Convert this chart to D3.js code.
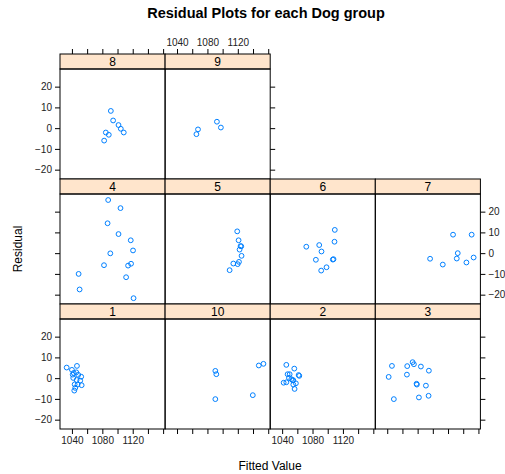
<!DOCTYPE html>
<html>
<head>
<meta charset="utf-8">
<script src="https://cdn.jsdelivr.net/npm/d3@7"></script>
<style>
  body { margin: 0; background: #fff; }
  text { font-family: "Liberation Sans", Arial, sans-serif; }
</style>
</head>
<body>
<div id="chart"></div>
<script>
// residuals by dog group: [fitted, residual]
const dog1 = [[1033.1, 5.1], [1046.6, 5.9], [1040.0, 4.0], [1042.3, 2.5], [1045.7, 2.8], [1048.3, 1.6],
  [1052.2, 0.7], [1041.7, 0.1], [1046.2, -0.9], [1050.9, -1.2], [1043.6, -3.0], [1052.8, -3.4],
  [1047.5, -3.1], [1044.4, -4.7], [1043.1, -6.0], [1041.0, 1.7]];
const dog10 = [[1090.4, 3.5], [1091.7, 1.9], [1090.4, -10.1], [1139.7, -8.2], [1147.6, 6.1], [1153.7, 6.9]];
const dog2 = [[1045.5, 6.4], [1056.0, 4.6], [1047.2, 1.9], [1049.9, 1.9], [1061.7, 1.5], [1062.6, 1.1],
  [1049.0, 0.1], [1052.1, -0.5], [1053.8, -1.0], [1054.7, -1.0], [1042.0, -2.2], [1045.5, -2.0],
  [1058.1, -2.5], [1054.7, -3.1], [1056.4, -5.2]];
const dog3 = [[1046.2, 5.9], [1066.3, 5.8], [1073.4, 7.7], [1075.1, 6.7], [1084.3, 5.6], [1094.8, 3.6],
  [1041.9, 0.6], [1065.9, 1.7], [1078.6, -2.7], [1079.0, -3.1], [1090.9, -3.6], [1094.4, -8.5],
  [1081.7, -9.3], [1048.7, -10.1]];
const dog4 = [[1087.7, 25.6], [1103.9, 21.7], [1086.9, 14.4], [1101.3, 9.2], [1117.4, 6.2], [1120.4, 1.3],
  [1090.5, -0.1], [1082.2, -5.8], [1117.8, -5.1], [1113.9, -6.0], [1048.8, -10.0], [1111.3, -11.6],
  [1050.1, -17.5], [1121.1, -21.7]];
const dog5 = [[1119.2, 10.5], [1121.0, 6.2], [1123.6, 3.4], [1124.5, 3.3], [1122.3, 1.7], [1124.9, -1.3],
  [1121.5, -4.2], [1119.8, -5.3], [1114.1, -5.0], [1109.2, -8.2]];
const dog6 = [[1109.3, 11.2], [1108.9, 5.5], [1071.8, 3.1], [1088.8, 3.9], [1091.8, 0.8], [1084.4, -3.2],
  [1107.6, -2.9], [1106.7, -3.1], [1098.4, -6.8], [1091.4, -8.4]];
const dog7 = [[1126.6, 8.9], [1151.1, 8.9], [1132.8, 0.0], [1131.5, -2.6], [1096.4, -2.7], [1153.7, -2.1],
  [1144.2, -4.5], [1113.1, -5.5]];
const dog8 = [[1091.2, 8.3], [1094.2, 3.7], [1101.3, 1.5], [1104.3, -0.3], [1108.2, -2.1], [1084.6, -2.1],
  [1088.5, -3.2], [1082.4, -6.0]];
const dog9 = [[1067.6, -0.6], [1065.5, -2.9], [1092.5, 3.1], [1097.7, 0.3]];

// panel layout, top row first
const rowsOfDogs = [["8", "9"], ["4", "5", "6", "7"], ["1", "10", "2", "3"]];
const dogData = { "1": dog1, "10": dog10, "2": dog2, "3": dog3, "4": dog4, "5": dog5,
  "6": dog6, "7": dog7, "8": dog8, "9": dog9 };

const xTicks = [1040, 1060, 1080, 1100, 1120, 1140, 1160];
const xLabels = [1040, 1080, 1120];
const yTicks = [-20, -10, 0, 10, 20];

const W = 505, H = 474;
const marginLeft = 60, marginTop = 54;
const panelW = 105.1, panelH = 110, stripH = 15, rowH = panelH + stripH;
const tickLen = 5;

const svg = d3.select("#chart").append("svg")
  .attr("width", W).attr("height", H);

const x = d3.scaleLinear().domain([1024.3, 1162.6]).range([0, panelW]);
const y = d3.scaleLinear().domain([-24.5, 28.5]).range([panelH, 0]);

svg.append("text")
  .attr("x", 266).attr("y", 18)
  .attr("text-anchor", "middle")
  .attr("font-size", 14.5).attr("font-weight", "bold")
  .text("Residual Plots for each Dog group");

rowsOfDogs.forEach((row, r) => {
  const rowY = marginTop + r * rowH;
  row.forEach((dog, c) => {
    const g = svg.append("g")
      .attr("transform", `translate(${marginLeft + c * panelW},${rowY})`);

    // strip
    g.append("rect")
      .attr("width", panelW).attr("height", stripH)
      .attr("fill", "#ffe5cc").attr("stroke", "#000").attr("stroke-width", 1);
    g.append("text")
      .attr("x", panelW / 2).attr("y", stripH - 3)
      .attr("text-anchor", "middle").attr("font-size", 12)
      .text(dog);

    const p = g.append("g").attr("transform", `translate(0,${stripH})`);
    p.append("rect")
      .attr("width", panelW).attr("height", panelH)
      .attr("fill", "none").attr("stroke", "#000").attr("stroke-width", 1);

    p.selectAll("circle")
      .data(dogData[dog])
      .join("circle")
      .attr("cx", d => x(d[0]))
      .attr("cy", d => y(d[1]))
      .attr("r", 2.4)
      .attr("fill", "none")
      .attr("stroke", "#0080ff")
      .attr("stroke-width", 1);

    // left axis on first column
    if (c === 0) {
      const ax = p.append("g")
        .call(d3.axisLeft(y).tickValues(yTicks).tickSize(tickLen).tickPadding(3)
          .tickFormat(r === 1 ? "" : d3.format("d")));
      styleAxis(ax);
    }
    // right axis on last panel of each row
    if (c === row.length - 1) {
      const ax = p.append("g")
        .attr("transform", `translate(${panelW},0)`)
        .call(d3.axisRight(y).tickValues(yTicks).tickSize(tickLen).tickPadding(3)
          .tickFormat(r === 1 ? d3.format("d") : ""));
      styleAxis(ax);
    }
    // bottom axis on bottom row
    if (r === rowsOfDogs.length - 1) {
      const ax = p.append("g")
        .attr("transform", `translate(0,${panelH})`)
        .call(d3.axisBottom(x).tickValues(xTicks).tickSize(tickLen).tickPadding(3)
          .tickFormat(d => (c % 2 === 0 && xLabels.includes(d)) ? d : ""));
      styleAxis(ax);
    }
    // top axis on top row
    if (r === 0) {
      const ax = g.append("g")
        .call(d3.axisTop(x).tickValues(xTicks).tickSize(tickLen).tickPadding(3)
          .tickFormat(d => (c % 2 === 1 && xLabels.includes(d)) ? d : ""));
      styleAxis(ax);
    }
  });
});

function styleAxis(ax) {
  ax.select(".domain").remove();
  ax.selectAll(".tick line").attr("stroke", "#000");
  ax.selectAll(".tick text")
    .attr("font-family", "Liberation Sans, Arial, sans-serif")
    .attr("font-size", 10).attr("fill", "#222");
}

// axis titles
svg.append("text")
  .attr("x", 270).attr("y", 470)
  .attr("text-anchor", "middle").attr("font-size", 12)
  .text("Fitted Value");

svg.append("text")
  .attr("transform", "translate(22,249) rotate(-90)")
  .attr("text-anchor", "middle").attr("font-size", 12)
  .text("Residual");
</script>
</body>
</html>
